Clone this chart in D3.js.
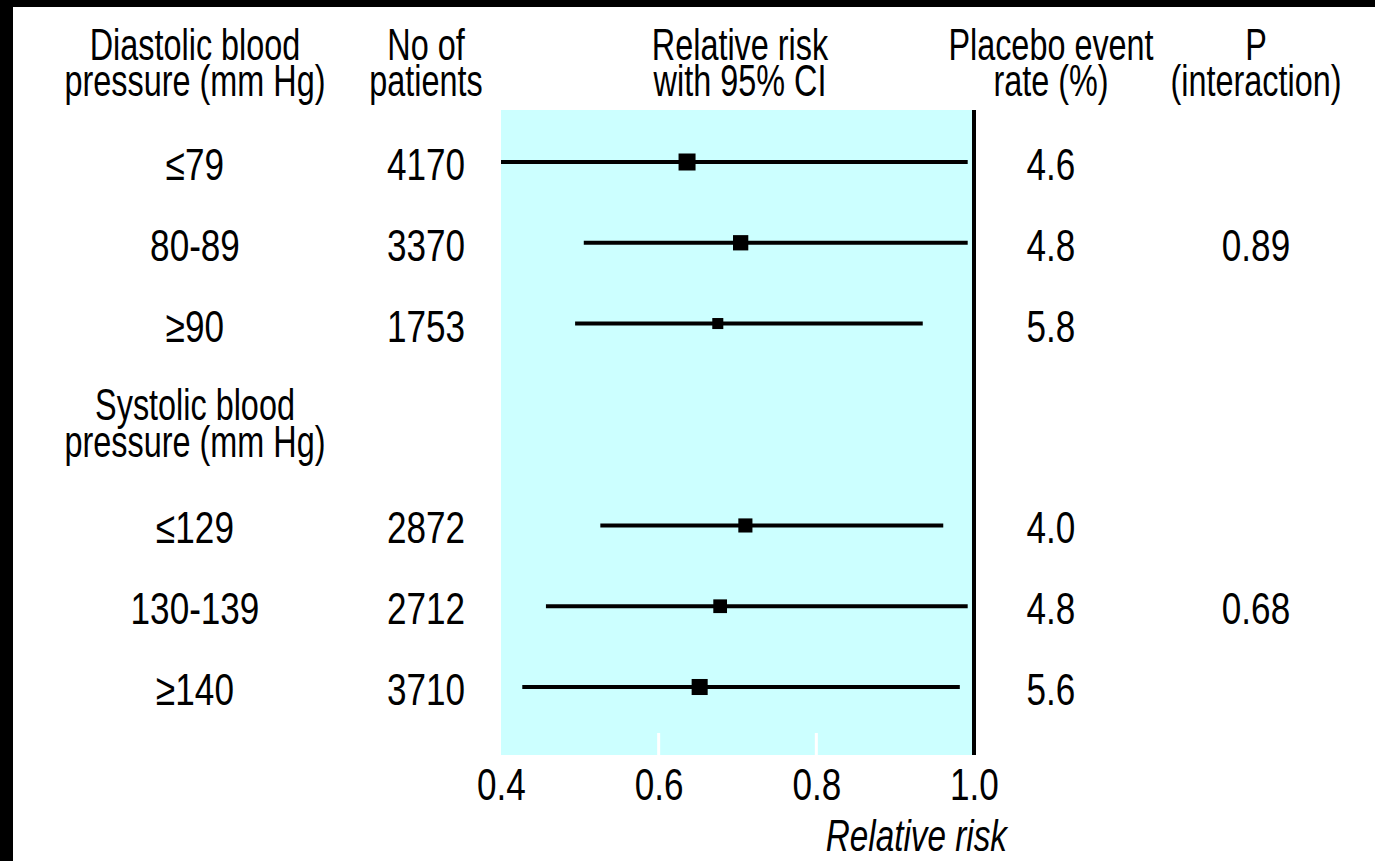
<!DOCTYPE html>
<html>
<head>
<meta charset="utf-8">
<script src="https://cdn.jsdelivr.net/npm/d3@7"></script>
<style>
  body { margin: 0; background: #000; }
  svg text { font-family: "Liberation Sans", Arial, sans-serif; font-size: 45px; fill: #000; }
</style>
</head>
<body>
<svg id="chart"></svg>
<script>
// Values
const subgroups = ['≤79', '80-89', '≥90', '≤129', '130-139', '≥140'];
const groupOf = [0, 0, 0, 1, 1, 1];
const patients = [4170, 3370, 1753, 2872, 2712, 3710];
const relRisk = [0.636, 0.704, 0.675, 0.710, 0.678, 0.652];
const ciLow = [0.400, 0.505, 0.494, 0.526, 0.457, 0.427];
const ciHigh = [0.992, 0.992, 0.935, 0.961, 0.992, 0.982];
const placeboRate = ['4.6', '4.8', '5.8', '4.0', '4.8', '5.6'];
const pInteraction = ['0.89', '0.68'];
const groupTitles = [['Diastolic blood', 'pressure (mm Hg)'], ['Systolic blood', 'pressure (mm Hg)']];
const colHeads = [['No of', 'patients'], ['Relative risk', 'with 95% CI'], ['Placebo event', 'rate (%)'], ['P', '(interaction)']];
const xTicks = [0.4, 0.6, 0.8, 1.0];

const W = 1375, H = 861;
const plot = { left: 501, right: 974, top: 110, bottom: 755 };
const col = { label: 195, n: 426, rr: 740, rate: 1051, p: 1256 };
const squeezeWords = 0.72, squeezeNums = 0.78;

const svg = d3.select('#chart')
    .attr('width', W)
    .attr('height', H);

// black frame on top/left, white page
svg.append('rect').attr('width', W).attr('height', H).attr('fill', '#000');
svg.append('rect').attr('x', 13).attr('y', 7).attr('width', W - 13).attr('height', H - 7).attr('fill', '#fff');

const x = d3.scaleLinear()
    .domain([0.4, 1.0])
    .range([plot.left, plot.right]);

// row slots: 3 rows, gap for the second group title, 3 rows
const slot = i => groupOf[i] * 4.5 + (i - groupOf[i] * 3);
const y = d3.scaleLinear()
    .domain([0, 6.5])
    .range([162, 687]);

// text squeezed horizontally, like the narrow font of the original
function label(lines, cx, base, sx, anchor, lead) {
  const t = svg.append('text')
      .attr('transform', `translate(${cx},${base}) scale(${sx},1)`)
      .attr('text-anchor', anchor || 'middle');
  [].concat(lines).forEach((s, k) => {
    t.append('tspan').attr('x', 0).attr('dy', k ? (lead || 36) : 0).text(s);
  });
  return t;
}

// shaded plot area
svg.append('rect')
    .attr('x', plot.left)
    .attr('y', plot.top)
    .attr('width', plot.right - plot.left)
    .attr('height', plot.bottom - plot.top)
    .attr('fill', '#ccffff');

// white inner tick marks
svg.selectAll('.inner-tick')
  .data(xTicks.filter(d => d > 0.4 && d < 1))
  .enter().append('line')
    .attr('class', 'inner-tick')
    .attr('x1', d => x(d)).attr('x2', d => x(d))
    .attr('y1', plot.bottom - 22).attr('y2', plot.bottom)
    .attr('stroke', '#fff')
    .attr('stroke-width', 3);

// line of no effect
svg.append('line')
    .attr('x1', x(1)).attr('x2', x(1))
    .attr('y1', plot.top).attr('y2', plot.bottom)
    .attr('stroke', '#000')
    .attr('stroke-width', 4);

// confidence intervals
svg.selectAll('.ci')
  .data(subgroups)
  .enter().append('line')
    .attr('class', 'ci')
    .attr('x1', (d, i) => x(ciLow[i]))
    .attr('x2', (d, i) => x(ciHigh[i]))
    .attr('y1', (d, i) => y(slot(i)))
    .attr('y2', (d, i) => y(slot(i)))
    .attr('stroke', '#000')
    .attr('stroke-width', 4);

// point estimates, box size by number of patients
const size = d3.scaleSqrt().domain([0, d3.max(patients)]).range([0, 17]);
svg.selectAll('.est')
  .data(subgroups)
  .enter().append('rect')
    .attr('class', 'est')
    .attr('x', (d, i) => x(relRisk[i]) - size(patients[i]) / 2)
    .attr('y', (d, i) => y(slot(i)) - size(patients[i]) / 2)
    .attr('width', (d, i) => size(patients[i]))
    .attr('height', (d, i) => size(patients[i]))
    .attr('fill', '#000');

// column headers
const headX = [col.n, col.rr, col.rate, col.p];
label(groupTitles[0], col.label, 60, squeezeWords);
colHeads.forEach((lines, c) => label(lines, headX[c], 60, squeezeWords));

// second group title
label(groupTitles[1], col.label, y(3) + 16, squeezeWords, 'middle', 37);

// row texts
subgroups.forEach((s, i) => {
  const base = y(slot(i)) + 18;
  label(s, col.label, base, squeezeNums);
  label(patients[i], col.n, base, squeezeNums);
  label(placeboRate[i], col.rate, base, squeezeNums);
});
pInteraction.forEach((p, g) => label(p, col.p, y(g * 4.5 + 1) + 18, squeezeNums));

// x axis
const xAxis = svg.append('g')
    .attr('transform', `translate(0,${plot.bottom})`)
    .attr('font-size', null)
    .attr('font-family', null)
    .call(d3.axisBottom(x).tickValues(xTicks).tickFormat(d3.format('.1f')).tickSize(0).tickPadding(13));
xAxis.select('.domain').remove();
xAxis.selectAll('text').attr('transform', `scale(${squeezeNums},1)`);

label('Relative risk', 1007, 851, 0.74, 'end').style('font-style', 'italic');
</script>
</body>
</html>
